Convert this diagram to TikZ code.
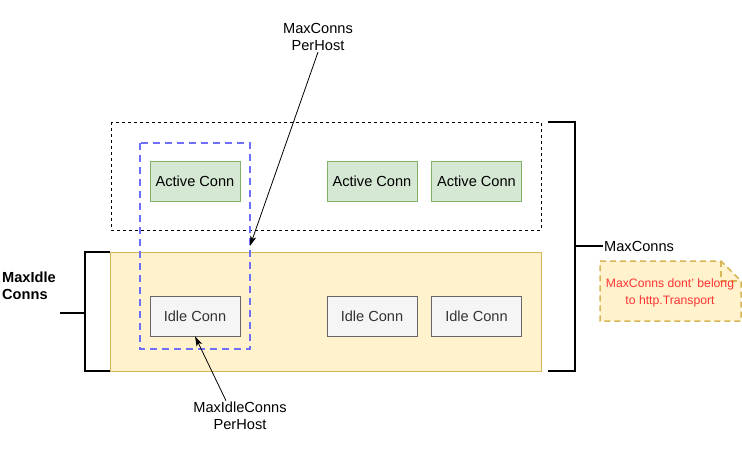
\documentclass[tikz,border=0pt]{standalone}
\usepackage{fontspec}
\setmainfont{Liberation Sans}
\usepackage{xcolor}
\usetikzlibrary{arrows.meta, positioning, calc}

\definecolor{activeFill}{HTML}{D5E8D4}
\definecolor{activeLine}{HTML}{82B366}
\definecolor{idleFill}{HTML}{F5F5F5}
\definecolor{idleLine}{HTML}{666666}
\definecolor{idleText}{HTML}{333333}
\definecolor{poolFill}{HTML}{FFF2CC}
\definecolor{poolLine}{HTML}{D6B656}
\definecolor{hostLine}{HTML}{6F6FFF}
\definecolor{noteText}{HTML}{FF3333}

\begin{document}
\begin{tikzpicture}[
		x=1pt, y=-1pt,
		font=\fontsize{14.6}{17.5}\selectfont,
		connBox/.style={rectangle, draw, minimum width=90pt, minimum height=40pt, inner sep=0pt},
		activeBox/.style={connBox, fill=activeFill, draw=activeLine},
		idleBox/.style={connBox, fill=idleFill, draw=idleLine, text=idleText},
		bracket/.style={line width=2pt, draw=black},
		arrow/.style={-{Stealth[length=10pt, width=6pt, inset=2.5pt]}, draw=black, line width=0.8pt},
		label/.style={align=center, inner sep=1pt}
		]

		\useasboundingbox (0,0) rectangle (742,472);

		% areas
		\draw[dashed, dash pattern=on 3pt off 3pt, line width=0.8pt] (111,122) rectangle (541,230);
		\draw[fill=poolFill, draw=poolLine, line width=0.8pt] (110,252) rectangle (541,371);
		\draw[hostLine, line width=2pt, dash pattern=on 7pt off 5pt] (140,143) rectangle (250,349);

		% Nodos
		\node[activeBox] (active1) at (195,181.5) {Active Conn};
		\node[activeBox] (active2) at (372,181.5) {Active Conn};
		\node[activeBox] (active3) at (476.5,181.5) {Active Conn};
		\node[idleBox] (idle1) at (195,316) {Idle Conn};
		\node[idleBox] (idle2) at (372,316) {Idle Conn};
		\node[idleBox] (idle3) at (476.5,316) {Idle Conn};

		\node[label] (perHost) at (318,37) {MaxConns\\PerHost};
		\node[label, fill=white] (idlePerHost) at (240,416) {MaxIdleConns\\PerHost};
		\node[align=left, anchor=west, font=\fontsize{14.6}{17.5}\selectfont\bfseries, inner sep=0pt] (maxIdle) at (2,286) {MaxIdle\\Conns};
		\node[anchor=west, inner sep=1pt] (maxConns) at (603,246) {MaxConns};

		% note
		\draw[dashed, dash pattern=on 6pt off 4pt, fill=poolFill, draw=poolLine, line width=1.5pt]
			(600,261) -- (721,261) -- (741,281) -- (741,321) -- (600,321) -- cycle;
		\draw[dashed, dash pattern=on 6pt off 4pt, draw=poolLine, line width=1.5pt]
			(721,261) -- (721,281) -- (741,281);
		\node[align=center, text=noteText, font=\fontsize{12.2}{17}\selectfont] (note) at (670,293) {MaxConns dont' belong\\to http.Transport};

		% brackets
		\draw[bracket] (548,122) -- (575,122) -- (575,371) -- (548,371);
		\coordinate (connsTip) at (575,246);
		\draw[bracket] (connsTip) -- (maxConns.west);
		\draw[bracket] (110,252) -- (85,252) -- (85,371) -- (110,371);
		\coordinate (idleTip) at (85,313);
		\draw[bracket] (idleTip) -- (60,313);

		% Flechas
		\coordinate (hostEdge) at (250,246);
		\draw[arrow] (perHost.south) -- (hostEdge);
		\draw[arrow] (idlePerHost.north) ++(-14,0) -- (idle1.south);

	\end{tikzpicture}
\end{document}
